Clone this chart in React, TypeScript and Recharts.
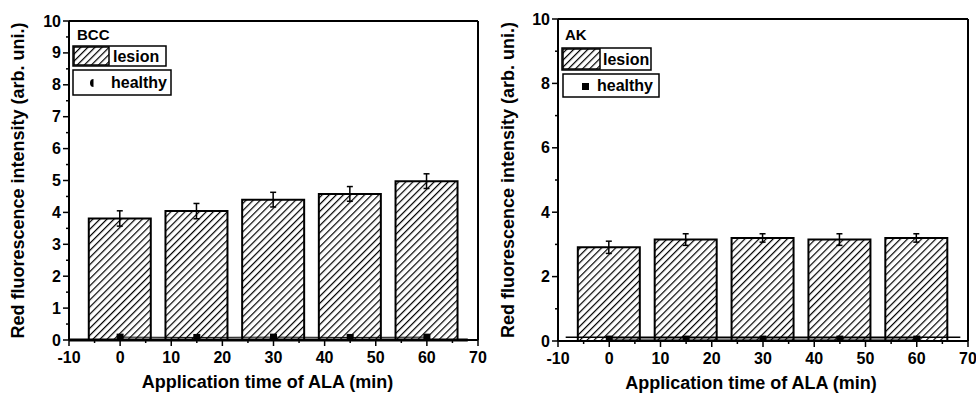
import React from 'react';
import { ComposedChart, Bar, Line, XAxis, YAxis, ErrorBar, ReferenceLine, Label } from 'recharts';

// ---------- data ----------
const times = [0, 15, 30, 45, 60];
const bccLesion = [3.81, 4.04, 4.4, 4.58, 4.98];
const bccLesionErr = [0.24, 0.24, 0.23, 0.23, 0.23];
const bccHealthy = [0.09, 0.08, 0.09, 0.08, 0.09];
const akLesion = [2.91, 3.15, 3.2, 3.15, 3.2];
const akLesionErr = [0.19, 0.18, 0.13, 0.18, 0.13];
const akHealthy = [0.06, 0.06, 0.06, 0.06, 0.06];

const xTicks = [-10, -5, 0, 5, 10, 15, 20, 25, 30, 35, 40, 45, 50, 55, 60, 65, 70];
const bccYTicks = [0, 0.5, 1, 1.5, 2, 2.5, 3, 3.5, 4, 4.5, 5, 5.5, 6, 6.5, 7, 7.5, 8, 8.5, 9, 9.5, 10];
const akYTicks = [0, 1, 2, 3, 4, 5, 6, 7, 8, 9, 10];

const bccBaseline = [{ x: -10, y: 0 }, { x: 68, y: 0 }];
const akBaseline = [{ x: -8.5, y: 0.12 }, { x: 68.5, y: 0.12 }];

const xTitle = 'Application time of ALA (min)';
const yTitle = 'Red fluorescence intensity (arb. uni.)';

const bccData = times.map((t, i) => ({ t, lesion: bccLesion[i], err: bccLesionErr[i], healthy: bccHealthy[i] }));
const akData = times.map((t, i) => ({ t, lesion: akLesion[i], err: akLesionErr[i], healthy: akHealthy[i] }));

const FONT = '"Liberation Sans", Arial, sans-serif';

const makeXTick = () => (props: any) => {
  const { x, y, payload } = props;
  const v = payload.value;
  const major = v % 10 === 0;
  return (
    <g>
      <line x1={x} x2={x} y1={y} y2={y + (major ? 6 : 3)} stroke="#000" strokeWidth={1.5} />
      {major && (
        <text x={x} y={y + 23} textAnchor="middle" fontFamily={FONT} fontWeight="bold" fontSize={16} fill="#000">
          {v}
        </text>
      )}
    </g>
  );
};

const makeYTick = (isMajor: (v: number) => boolean) => (props: any) => {
  const { x, y, payload } = props;
  const v = payload.value;
  const major = isMajor(v);
  return (
    <g>
      <line x1={x} x2={x - (major ? 6 : 3)} y1={y} y2={y} stroke="#000" strokeWidth={1.5} />
      {major && (
        <text x={x - 8} y={y + 5.5} textAnchor="end" fontFamily={FONT} fontWeight="bold" fontSize={16} fill="#000">
          {v}
        </text>
      )}
    </g>
  );
};

const SquareDot = (props: any) => {
  const { cx, cy, index } = props;
  if (cx == null || cy == null) return null;
  return <rect key={`d${index}`} x={cx - 3.5} y={cy - 3.5} width={7} height={7} fill="#000" />;
};

const YTitle = (dx: number) => (props: any) => {
  const vb = props.viewBox || {};
  const cx = (vb.x || 0) + dx;
  const cy = (vb.y || 0) + (vb.height || 0) / 2;
  return (
    <text
      x={cx}
      y={cy}
      transform={`rotate(-90, ${cx}, ${cy})`}
      textAnchor="middle"
      dominantBaseline="central"
      fontFamily={FONT}
      fontWeight="bold"
      fontSize={18}
      fill="#000"
    >
      {yTitle}
    </text>
  );
};

const XTitle = (dx: number) => (props: any) => {
  const vb = props.viewBox || {};
  const cx = (vb.x || 0) + (vb.width || 0) / 2 + dx;
  const cy = (vb.y || 0) + 42;
  return (
    <text x={cx} y={cy} textAnchor="middle" dominantBaseline="central" fontFamily={FONT} fontWeight="bold" fontSize={18} fill="#000">
      {xTitle}
    </text>
  );
};

type PanelProps = {
  data: any[];
  yTicks: number[];
  isMajor: (v: number) => boolean;
  baseline: { x: number; y: number }[];
  baseWidth: number;
  margin: any;
  yAxisWidth: number;
  xAxisHeight: number;
  yTitleDx: number;
  xTitleDx: number;
};

const Panel = (p: PanelProps) => (
  <ComposedChart width={488} height={393} data={p.data} margin={p.margin}>
    <XAxis
      type="number"
      dataKey="t"
      domain={[-10, 70]}
      ticks={xTicks}
      interval={0}
      allowDataOverflow
      tickSize={0}
      tickMargin={0}
      tickLine={false}
      tick={makeXTick()}
      axisLine={{ stroke: '#000', strokeWidth: 2 }}
      height={p.xAxisHeight}
    >
      <Label content={XTitle(p.xTitleDx)} />
    </XAxis>
    <YAxis
      type="number"
      domain={[0, 10]}
      ticks={p.yTicks}
      interval={0}
      allowDataOverflow
      tickSize={0}
      tickMargin={0}
      tickLine={false}
      tick={makeYTick(p.isMajor)}
      axisLine={{ stroke: '#000', strokeWidth: 2 }}
      width={p.yAxisWidth}
    >
      <Label content={YTitle(p.yTitleDx)} />
    </YAxis>
    <ReferenceLine y={10} stroke="#000" strokeWidth={2} />
    <ReferenceLine x={70} stroke="#000" strokeWidth={2} />
    <Bar dataKey="lesion" barSize={62} fill="url(#hatch)" stroke="#000" strokeWidth={2} isAnimationActive={false}>
      <ErrorBar dataKey="err" width={3} stroke="#000" strokeWidth={1.5} direction="y" />
    </Bar>
    <Line dataKey="healthy" stroke="#000" strokeWidth={1} dot={SquareDot} isAnimationActive={false} />
    <ReferenceLine segment={p.baseline} stroke="#000" strokeWidth={p.baseWidth} />
  </ComposedChart>
);

const txt = { fontFamily: FONT, fontWeight: 'bold' as const, fill: '#000' };

const Overlay = () => (
  <svg width={976} height={393} style={{ position: 'absolute', left: 0, top: 0, pointerEvents: 'none' }}>
    <defs>
      <pattern id="hatch" patternUnits="userSpaceOnUse" width={5} height={5} patternTransform="rotate(45)">
        <rect width={5} height={5} fill="#fff" />
        <line x1={0} y1={0} x2={0} y2={5} stroke="#000" strokeWidth={2.4} />
      </pattern>
    </defs>
    {/* BCC legend */}
    <text x={77} y={40} fontSize={15} {...txt}>BCC</text>
    <rect x={73} y={46} width={93} height={20} fill="#fff" stroke="#000" strokeWidth={1.5} />
    <rect x={74} y={47} width={35} height={18} fill="url(#hatch)" stroke="#000" strokeWidth={1.5} />
    <text x={113} y={62} fontSize={16} {...txt}>lesion</text>
    <rect x={73} y={70} width={98} height={25} fill="#fff" stroke="#000" strokeWidth={1.5} />
    <path d="M93.5,79 A3.5,4 0 0 0 93.5,87 Z" fill="#000" />
    <text x={111} y={88} fontSize={16} {...txt}>healthy</text>
    {/* AK legend */}
    <text x={565} y={40} fontSize={15} {...txt}>AK</text>
    <rect x={562} y={48} width={89} height={22} fill="#fff" stroke="#000" strokeWidth={1.5} />
    <rect x={563} y={49} width={37} height={20} fill="url(#hatch)" stroke="#000" strokeWidth={1.5} />
    <text x={603} y={65} fontSize={16} {...txt}>lesion</text>
    <rect x={563} y={74} width={96} height={23} fill="#fff" stroke="#000" strokeWidth={1.5} />
    <rect x={582} y={83} width={7} height={7} fill="#000" />
    <text x={597} y={91} fontSize={16} {...txt}>healthy</text>
  </svg>
);

export default function App() {
  return (
    <div style={{ position: 'absolute', left: 0, top: 0, width: 976, height: 393, background: '#fff', overflow: 'hidden' }}>
      <div style={{ position: 'absolute', left: 0, top: 0 }}>
        <Panel
          data={bccData}
          yTicks={bccYTicks}
          isMajor={(v) => Number.isInteger(v)}
          baseline={bccBaseline}
          baseWidth={3}
          margin={{ top: 21, right: 10, bottom: 0, left: 0 }}
          yAxisWidth={69}
          xAxisHeight={53}
          yTitleDx={18}
          xTitleDx={-6}
        />
      </div>
      <div style={{ position: 'absolute', left: 488, top: 0 }}>
        <Panel
          data={akData}
          yTicks={akYTicks}
          isMajor={(v) => v % 2 === 0}
          baseline={akBaseline}
          baseWidth={1.5}
          margin={{ top: 19, right: 8, bottom: 0, left: 0 }}
          yAxisWidth={70}
          xAxisHeight={52}
          yTitleDx={20}
          xTitleDx={-12}
        />
      </div>
      <Overlay />
    </div>
  );
}
